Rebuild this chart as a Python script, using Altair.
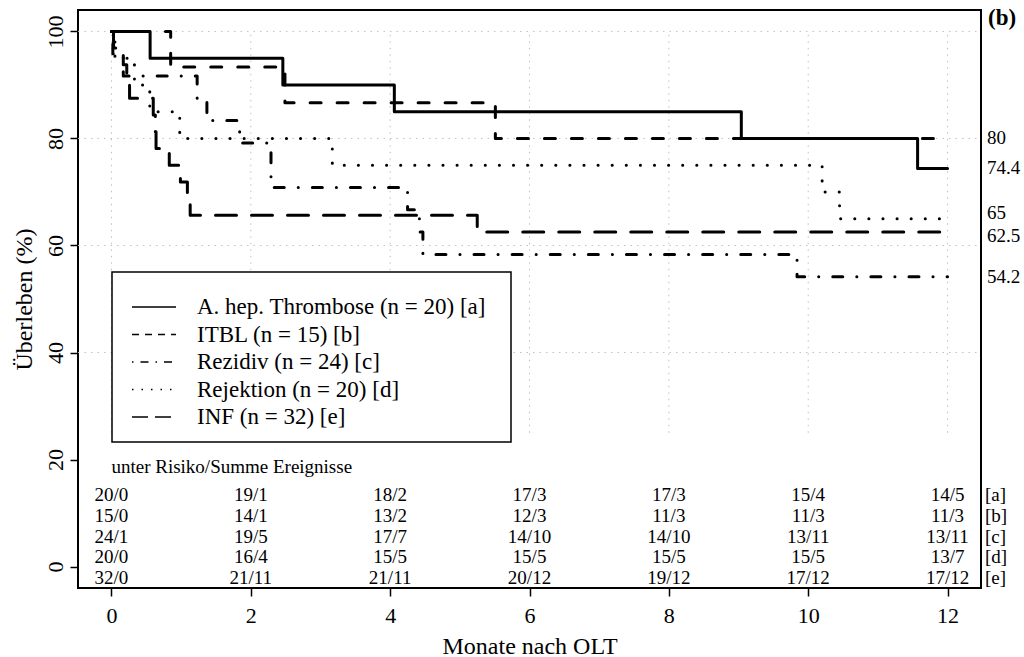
import altair as alt
import pandas as pd

# ---------------- data ----------------
groups = ["A. hep. Thrombose", "ITBL", "Rezidiv", "Rejektion", "INF"]
legend_labels = ["A. hep. Thrombose (n = 20) [a]", "ITBL (n = 15) [b]",
                 "Rezidiv (n = 24) [c]", "Rejektion (n = 20) [d]", "INF (n = 32) [e]"]
row_tags = ["[a]", "[b]", "[c]", "[d]", "[e]"]

ahep_t = [0, 0.555, 2.46, 4.06, 9.04, 11.57, 12]
ahep_s = [100, 95, 90, 85, 80, 74.4, 74.4]
itbl_t = [0, 0.85, 2.49, 5.51, 12]
itbl_s = [100, 93.33, 86.67, 80, 80]
rez_t = [0, 0.02, 0.17, 1.23, 1.37, 1.84, 2.29, 4.25, 4.42, 4.47, 9.84, 12]
rez_s = [100, 95.83, 91.67, 87.5, 83.33, 79.17, 70.83, 66.67, 62.5, 58.33, 54.17, 54.17]
rej_t = [0, 0.05, 0.33, 0.55, 0.98, 3.17, 10.2, 10.45, 12]
rej_s = [100, 95, 90, 85, 80, 75, 70, 65, 65]
inf_t = [0, 0.03, 0.17, 0.22, 0.26, 0.6, 0.63, 0.64, 0.83, 0.99, 1.09, 1.13, 5.25, 12]
inf_s = [100, 96.88, 93.75, 90.63, 87.5, 84.38, 81.25, 78.13, 75, 71.88, 68.75, 65.63, 62.5, 62.5]

end_values = [74.4, 80, 54.17, 65, 62.5]

risk_times = [0, 2, 4, 6, 8, 10, 12]
risk_a = ["20/0", "19/1", "18/2", "17/3", "17/3", "15/4", "14/5"]
risk_b = ["15/0", "14/1", "13/2", "12/3", "11/3", "11/3", "11/3"]
risk_c = ["24/1", "19/5", "17/7", "14/10", "14/10", "13/11", "13/11"]
risk_d = ["20/0", "16/4", "15/5", "15/5", "15/5", "15/5", "13/7"]
risk_e = ["32/0", "21/11", "21/11", "20/12", "19/12", "17/12", "17/12"]

x_ticks = [0, 2, 4, 6, 8, 10, 12]
y_ticks = [0, 20, 40, 60, 80, 100]
h_grid = [40, 60, 80, 100]

# ---------------- layout / style ----------------
FONT = "Liberation Serif"
W, H = 903, 578
main_dash = [[1, 0], [11, 16], [0.1, 14, 10, 14], [0.1, 14], [21, 15]]
legend_dash = [[1, 0], [7, 6], [1.5, 7, 8, 7], [1.5, 8], [16, 7]]
risk_y = [13.3, 9.5, 5.6, 1.8, -2.1]
# label anchor positions (slightly spread so neighbouring labels do not collide)
end_label_y = [74.4, 80, 54.17, 66.0, 61.8]

xscale = alt.Scale(domain=[-0.48, 12.48], nice=False, zero=False)
yscale = alt.Scale(domain=[-4, 104], nice=False, zero=False)

xaxis = alt.Axis(values=x_ticks, format="d", title="Monate nach OLT", grid=False, domain=False,
                 tickSize=8, tickWidth=1.5, tickColor="black",
                 labelFont=FONT, labelFontSize=22, labelColor="black", labelPadding=9,
                 titleFont=FONT, titleFontSize=24, titleFontWeight="normal", titleColor="black",
                 titleY=65, titleBaseline="alphabetic")
yaxis = alt.Axis(values=y_ticks, format="d", title="Überleben (%)", grid=False, domain=False,
                 tickSize=8, tickWidth=1.5, tickColor="black",
                 labelFont=FONT, labelFontSize=22, labelColor="black", labelPadding=8,
                 labelAngle=270, labelAlign="center", labelBaseline="alphabetic",
                 titleFont=FONT, titleFontSize=24, titleFontWeight="normal", titleColor="black",
                 titleAngle=270, titleX=-47, titleY=289, titleAlign="center",
                 titleBaseline="alphabetic")

X = lambda f: alt.X(f, scale=xscale, axis=xaxis)
Y = lambda f: alt.Y(f, scale=yscale, axis=yaxis)

# ---------------- tables ----------------
series = [(ahep_t, ahep_s), (itbl_t, itbl_s), (rez_t, rez_s), (rej_t, rej_s), (inf_t, inf_s)]
rows = []
for g, (ts, ss) in zip(groups, series):
    for i, (t, s) in enumerate(zip(ts, ss)):
        rows.append({"group": g, "t": t, "s": s, "i": i})
curves = pd.DataFrame(rows)

risk_rows = []
for r, vals in enumerate([risk_a, risk_b, risk_c, risk_d, risk_e]):
    for t, v in zip(risk_times, vals):
        risk_rows.append({"t": t, "s": risk_y[r], "txt": v})
risk_df = pd.DataFrame(risk_rows)
tag_df = pd.DataFrame({"s": risk_y, "txt": row_tags})
end_df = pd.DataFrame({"v": end_values, "s": end_label_y})

# ---------------- layers ----------------
hgrid = alt.Chart(pd.DataFrame({"s": h_grid})).mark_rule(
    color="#c0c0c0", strokeWidth=1, strokeDash=[1.5, 5]).encode(
    y=Y("s:Q"), x=alt.value(0), x2=alt.value(W))
vgrid = alt.Chart(pd.DataFrame({"t": x_ticks})).mark_rule(
    color="#c0c0c0", strokeWidth=1, strokeDash=[1.5, 5]).encode(
    x=X("t:Q"), y=alt.datum(25, scale=yscale), y2=alt.datum(100))

lines = alt.Chart(curves).mark_line(
    interpolate="step-after", strokeWidth=3, color="black", strokeCap="round",
    strokeJoin="round").encode(
    x=X("t:Q"), y=Y("s:Q"),
    strokeDash=alt.StrokeDash("group:N", scale=alt.Scale(domain=groups, range=main_dash),
                              legend=None),
    order=alt.Order("i:Q"))

end_text = alt.Chart(end_df).mark_text(
    align="left", baseline="middle", font=FONT, fontSize=19, color="black").encode(
    x=alt.value(909), y=Y("s:Q"), text=alt.Text("v:Q", format=".3~r"))

risk_head = alt.Chart(pd.DataFrame({"txt": ["unter Risiko/Summe Ereignisse"]})).mark_text(
    align="left", baseline="middle", font=FONT, fontSize=19, color="black").encode(
    x=alt.datum(0, scale=xscale), y=alt.datum(18.6, scale=yscale), text="txt:N")

risk_text = alt.Chart(risk_df).mark_text(
    align="center", baseline="middle", font=FONT, fontSize=19, color="black").encode(
    x=X("t:Q"), y=Y("s:Q"), text="txt:N")

tag_text = alt.Chart(tag_df).mark_text(
    align="left", baseline="middle", font=FONT, fontSize=19, color="black").encode(
    x=alt.value(907), y=Y("s:Q"), text="txt:N")

panel = alt.Chart(pd.DataFrame({"txt": ["(b)"]})).mark_text(
    align="left", baseline="middle", font=FONT, fontSize=23, fontWeight="bold",
    color="black").encode(x=alt.value(910), y=alt.value(8), text="txt:N")

# legend (box, samples, labels)
LX0, LX1, LY0, LY1 = 34, 433, 262, 432
leg_box = alt.Chart(pd.DataFrame({"k": [0]})).mark_rect(
    fill="white", stroke="black", strokeWidth=1.5).encode(
    x=alt.value(LX0), x2=alt.value(LX1), y=alt.value(LY0), y2=alt.value(LY1))
leg_layers = [leg_box]
for i, lab in enumerate(legend_labels):
    yy = 297 + i * 27.5
    leg_layers.append(alt.Chart(pd.DataFrame({"k": [i]})).mark_rule(
        color="black", strokeWidth=1.5, strokeDash=legend_dash[i]).encode(
        x=alt.value(54), x2=alt.value(98), y=alt.value(yy)))
    leg_layers.append(alt.Chart(pd.DataFrame({"txt": [lab]})).mark_text(
        align="left", baseline="middle", font=FONT, fontSize=23, color="black").encode(
        x=alt.value(119), y=alt.value(yy), text="txt:N"))

chart = alt.layer(hgrid, vgrid, lines, end_text, risk_head, risk_text, tag_text, panel,
                  *leg_layers).properties(
    width=W, height=H,
    autosize=alt.AutoSizeParams(type="none"),
    padding={"left": 78, "top": 10, "right": 43, "bottom": 69},
    background="white",
).configure_view(stroke="black", strokeWidth=2)

chart.save("out.html", embed_options={"renderer": "svg", "actions": False})
